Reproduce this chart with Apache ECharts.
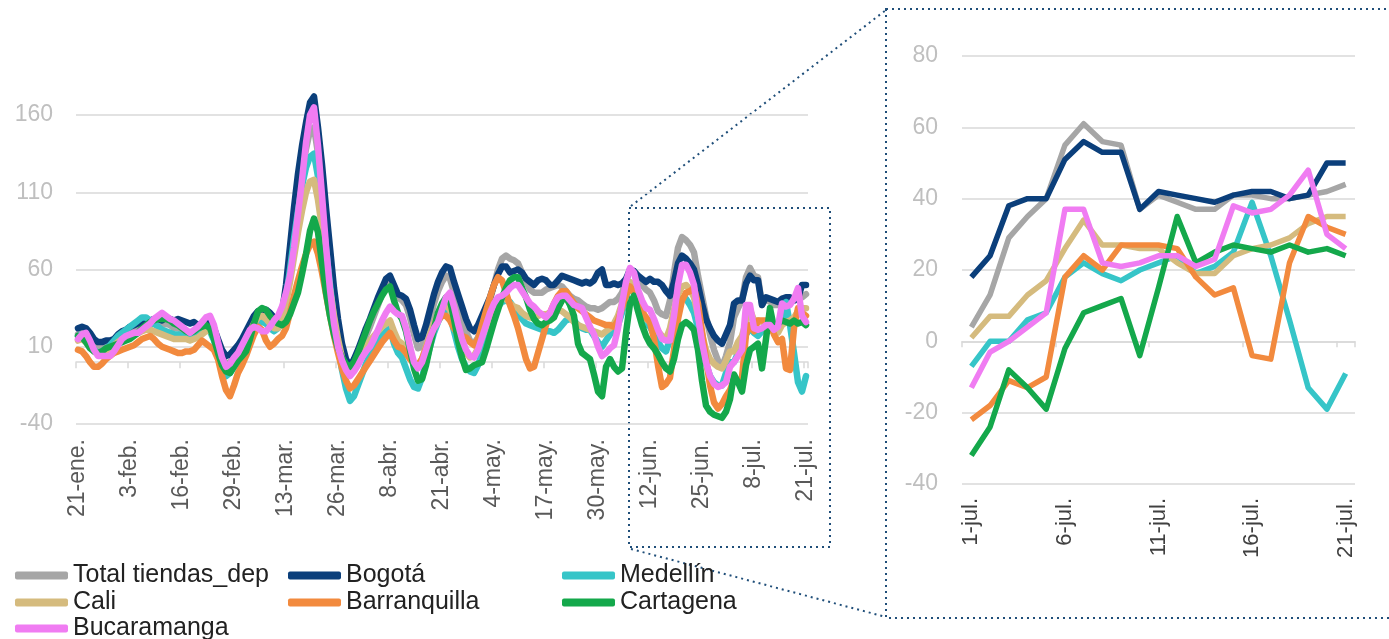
<!DOCTYPE html>
<html>
<head>
<meta charset="utf-8">
<title>Ventas tiendas por departamento</title>
<script src="https://cdn.jsdelivr.net/npm/echarts@6/dist/echarts.min.js"></script>
<style>
  html, body { margin: 0; padding: 0; background: #fff; }
  #chart { width: 1389px; height: 639px; }
</style>
</head>
<body>
<div id="chart"></div>
<script>
// daily values from 21-ene to 21-jul (183 days)
const total = [
  18, 19, 18, 15, 11, 9, 9, 10, 11, 12,
  15, 17, 18, 20, 21, 22, 23, 23, 24, 25,
  25, 24, 25, 24, 22, 22, 21, 20, 19, 20,
  19, 20, 22, 23, 18, 10, 3, -1, 0, 3,
  7, 11, 16, 21, 26, 30, 31, 30, 28, 25,
  24, 28, 42, 62, 85, 106, 123, 138, 150, 152,
  135, 112, 86, 62, 40, 22, 8, -2, -7, -3,
  3, 10, 17, 23, 30, 37, 44, 50, 55, 49,
  42, 40, 37, 29, 18, 9, 10, 18, 28, 38,
  46, 52, 56, 54, 45, 36, 28, 20, 14, 12,
  16, 23, 31, 40, 50, 60, 67, 69, 67, 66,
  64, 58, 52, 47, 45, 45, 45, 47, 48, 49,
  50, 49, 46, 43, 41, 40, 38, 36, 35, 35,
  34, 35, 37, 39, 39, 41, 45, 52, 60, 58,
  54, 50, 47, 45, 40, 33, 31, 30, 40, 58,
  74, 81, 79, 76, 71, 56, 43, 30, 18, 8,
  1, -3,
  4, 13, 29, 35, 40, 55, 61, 56, 55, 37, 41, 39, 37, 37, 41, 41, 40, 40, 41, 42, 44
];
const bogota = [
  22, 23, 22, 19, 15, 13, 13, 14, 14, 15,
  18, 20, 21, 23, 24, 25, 26, 25, 27, 28,
  28, 27, 29, 28, 27, 28, 27, 26, 25, 26,
  24, 25, 26, 26, 22, 15, 8, 4, 5, 8,
  11, 15, 20, 25, 30, 33, 34, 34, 32, 29,
  28, 32, 50, 75, 100, 122, 140, 155, 168, 172,
  152, 128, 100, 74, 48, 28, 12, 2, -3, 2,
  8, 15, 22, 28, 35, 42, 48, 54, 56, 50,
  44, 43, 41, 34, 24, 15, 16, 24, 34, 44,
  52, 58, 62, 61, 52, 44, 36, 28, 22, 20,
  24, 30, 36, 42, 50, 57, 62, 62, 58, 59,
  60, 58, 54, 52, 50, 53, 54, 53, 50, 50,
  53, 56, 55, 54, 53, 52, 51, 52, 51, 53,
  58, 60, 50, 50, 51, 50, 51, 54, 60, 59,
  56, 54, 52, 54, 52, 52, 50, 46, 43, 52,
  64, 69, 67, 64, 60, 50, 38, 28, 22, 17,
  14, 12,
  18, 24, 38, 40, 40, 51, 56, 53, 53, 37, 42, 41, 40, 39, 41, 42, 42, 40, 41, 50, 50
];
const medellin = [
  17, 18, 16, 12, 8, 6, 7, 9, 11, 14,
  17, 19, 21, 23, 25, 27, 29, 29, 27, 25,
  23, 21, 20, 19, 18, 18, 17, 17, 16, 17,
  18, 20, 21, 20, 14, 5, -4, -9, -7, -3,
  2, 7, 12, 17, 22, 25, 26, 25, 22, 20,
  22, 28, 42, 60, 80, 98, 114, 126, 133, 135,
  120, 98, 74, 50, 28, 10, -5, -17, -25, -22,
  -15, -8, -1, 5, 10, 14, 17, 20, 22, 12,
  6, 3, -4, -11, -16, -17, -10, 0, 10, 19,
  26, 31, 33, 30, 20, 10, 2, -3, -6, -7,
  -2, 6, 15, 24, 31, 36, 39, 40, 39, 35,
  31, 28, 25, 24, 23, 22, 21, 20, 20, 19,
  21, 24, 27, 28, 27, 24, 22, 21, 21, 17,
  13, 10, 14, 18, 21, 24, 32, 42, 50, 45,
  36, 29, 25, 23, 18, 13, 9, 7, 15, 26,
  36, 41, 41, 37, 32, 22, 10, -1, -9, -13,
  -15, -15,
  -7, 0, 0, 6, 8, 18, 22, 19, 17, 20, 22, 24, 19, 21, 25, 39, 24, 6, -13, -19, -9
];
const cali = [
  14, 15, 13, 10, 7, 5, 5, 7, 9, 11,
  13, 15, 16, 17, 18, 19, 20, 21, 21, 20,
  19, 18, 17, 16, 15, 15, 15, 15, 14, 15,
  16, 18, 20, 21, 16, 8, 1, -3, -2, 1,
  5, 10, 15, 20, 25, 29, 30, 28, 25, 22,
  22, 26, 38, 52, 68, 84, 98, 110, 117, 118,
  105, 87, 67, 47, 30, 15, 3, -5, -8, -5,
  0, 5, 10, 14, 17, 20, 23, 25, 27, 20,
  14, 12, 8, 3, -1, -2, 2, 10, 18, 25,
  31, 35, 37, 34, 26, 18, 11, 6, 3, 4,
  9, 16, 23, 30, 36, 40, 42, 41, 38, 36,
  35, 32, 30, 29, 29, 30, 31, 31, 32, 33,
  34, 33, 31, 29, 26, 24, 23, 22, 21, 20,
  19, 18, 20, 22, 25, 30, 38, 46, 52, 48,
  40, 33, 28, 26, 24, 20, 17, 15, 22, 34,
  44, 49, 50, 47, 42, 30, 18, 8, 2, -1,
  -3, -4,
  1, 7, 7, 13, 17, 26, 34, 27, 27, 26, 26, 22, 19, 19, 24, 26, 27, 29, 33, 35, 35
];
const barranquilla = [
  8, 7, 4, 0, -3, -3, -1, 2, 4, 6,
  7, 8, 9, 10, 11, 13, 15, 16, 17, 15,
  12, 10, 9, 8, 7, 6, 6, 7, 7, 8,
  11, 14, 12, 10, 8, 2, -9, -18, -22, -15,
  -7, -2, 4, 11, 18, 23, 21, 14, 10, 12,
  15, 17, 22, 32, 43, 53, 62, 70, 76, 78,
  70, 58, 44, 30, 17, 6, -4, -12, -17, -15,
  -11, -7, -3, 1, 5, 9, 13, 16, 19, 14,
  10, 9, 6, 2, -1, -2, 2, 9, 16, 22,
  27, 30, 30, 27, 22, 18, 17, 16, 13, 11,
  15, 24, 33, 42, 50, 55, 53, 45, 37, 30,
  22, 12, 2, -4, -3, 6, 15, 24, 32, 38,
  43, 46, 46, 42, 38, 35, 33, 31, 29, 27,
  26, 25, 24, 24, 23, 27, 35, 43, 49, 45,
  38, 33, 29, 26, 15, -2, -16, -14, -10, 8,
  28, 40, 45, 46, 48, 38, 20, 2, -15, -26,
  -30, -27,
  -22, -18, -11, -13, -10, 18, 24, 20, 27, 27, 27, 26, 18, 13, 15, -4, -5, 22, 35, 32, 30
];
const cartagena = [
  17, 16, 13, 9, 7, 6, 7, 9, 10, 11,
  12, 13, 14, 15, 17, 19, 22, 24, 26, 27,
  28, 28, 28, 27, 25, 24, 22, 20, 19, 20,
  22, 23, 24, 22, 15, 6, -2, -6, -7, -3,
  1, 4, 7, 15, 25, 33, 35, 34, 30, 27,
  25, 24, 26, 31, 38, 45, 57, 70, 85, 93,
  84, 64, 45, 30, 18, 9, 3, -1, -3, 0,
  6, 13, 20, 27, 33, 38, 43, 47, 49, 40,
  32, 28, 20, 8, -4, -12, -11, -2, 10, 22,
  32, 38, 42, 40, 28, 14, 3, -5, -4, -2,
  -1, 0, 8, 17, 26, 34, 42, 48, 53, 55,
  55, 48, 42, 34, 28, 25, 24, 26, 27, 29,
  35, 40, 42, 37, 30, 12, 6, 4, 2, -8,
  -19, -22, -3, 2, -3, -6, -4, 19, 38, 43,
  33, 24, 17, 12, 9, 5, 0, -4, -6, 2,
  15, 24, 26, 24, 21, 8, -12, -28, -32, -34,
  -35, -36,
  -32, -24, -8, -13, -19, -2, 8, 10, 12, -4, 15, 35, 22, 25, 27, 26, 25, 27, 25, 26, 24
];
const bucaramanga = [
  15, 18, 19, 14, 8, 4, 4, 4, 4, 7,
  11, 15, 17, 18, 19, 19, 21, 23, 25, 28,
  30, 32, 30, 28, 27, 25, 23, 21, 19, 21,
  23, 26, 29, 30, 24, 13, 3, -3, -1, 3,
  6, 11, 16, 21, 23, 22, 20, 20, 23, 27,
  30, 36, 45, 56, 74, 96, 118, 142, 160, 165,
  140, 108, 75, 47, 25, 10, 1, -5, -9, -6,
  -2, 3, 7, 10, 15, 21, 27, 32, 36, 33,
  31, 30, 22, 10, 0, -4, 0, 8, 16, 22,
  26, 34, 42, 45, 36, 25, 15, 8, 4, 3,
  8, 16, 24, 32, 38, 42, 43, 45, 48, 50,
  50, 46, 42, 38, 36, 33, 31, 29, 32, 38,
  42, 43, 43, 40, 37, 36, 35, 29, 23, 18,
  10, 4, 6, 9, 11, 22, 38, 52, 61, 58,
  47, 40, 35, 34, 28, 21, 15, 14, 14, 30,
  50, 63, 63, 58, 50, 30, 13, 0, -9, -14,
  -16, -15,
  -13, -3, 0, 4, 8, 37, 37, 22, 21, 22, 24, 24, 21, 23, 38, 36, 37, 41, 48, 30, 26
];

const seriesNames = ["Total tiendas_dep", "Bogotá", "Medellín", "Cali", "Barranquilla", "Cartagena", "Bucaramanga"];
const seriesColors = ["#a6a6a6", "#0b3f7b", "#36c5c8", "#d5bb7e", "#f28a3e", "#14a84b", "#f07cf2"];
const seriesValues = [total, bogota, medellin, cali, barranquilla, cartagena, bucaramanga];

// fechas: 21-ene ... 21-jul (2020)
const monthNames = ["ene.", "feb.", "mar.", "abr.", "may.", "jun.", "jul."];
const days = [];
for (let i = 0; i < total.length; i++) {
  const d = new Date(2020, 0, 21 + i);
  days.push(d.getDate() + "-" + monthNames[d.getMonth()]);
}
const julyStart = 162; // 1-jul
const julyDays = days.slice(julyStart);

const leftTicks = [-40, 10, 60, 110, 160];
const rightTicks = [-40, -20, 0, 20, 40, 60, 80];

const font = "Liberation Sans, Arial, sans-serif";
const gridColor = "#d9d9d9";

let chart = echarts.init(document.getElementById("chart"));

let series = [];
seriesNames.forEach(function (name, k) {
  // panel izquierdo, serie completa
  series.push({
    name: name,
    type: "line",
    xAxisIndex: 0,
    yAxisIndex: 0,
    data: seriesValues[k],
    showSymbol: false,
    clip: false,
    lineStyle: { width: 6.5, color: seriesColors[k], cap: "round", join: "round" },
    itemStyle: { color: seriesColors[k] },
  });
  // panel derecho, julio
  series.push({
    name: name,
    type: "line",
    xAxisIndex: 2,
    yAxisIndex: 1,
    data: seriesValues[k].slice(julyStart),
    showSymbol: false,
    lineStyle: { width: 5.5, color: seriesColors[k], join: "round" },
    itemStyle: { color: seriesColors[k] },
  });
});

// leyenda: una caja por elemento (3 columnas)
const legendPos = [
  ["Total tiendas_dep", 15, 563],
  ["Bogotá", 288, 563],
  ["Medellín", 562, 563],
  ["Cali", 15, 590],
  ["Barranquilla", 288, 590],
  ["Cartagena", 562, 590],
  ["Bucaramanga", 15, 616],
];
const legends = legendPos.map(function (p) {
  return {
    data: [p[0]],
    left: p[1],
    top: p[2],
    padding: 0,
    icon: "roundRect",
    itemWidth: 53,
    itemHeight: 8,
    textStyle: { fontFamily: font, fontSize: 25, color: "#222", lineHeight: 24 },
  };
});

// linea punteada del recuadro de zoom
const dotted = { stroke: "#1f4e79", lineWidth: 2, lineDash: [2, 4] };

let option = {
  animation: false,
  backgroundColor: "#fff",
  grid: [
    { left: 76, right: 581, top: 115, bottom: 215, outerBoundsMode: "none" },
    { left: 962, right: 34, top: 56, bottom: 155, outerBoundsMode: "none" },
  ],
  legend: legends,
  xAxis: [
    {
      // etiquetas abajo
      type: "category",
      gridIndex: 0,
      position: "bottom",
      data: days,
      boundaryGap: true,
      axisLine: { show: false, onZero: false },
      axisTick: { show: false },
      axisLabel: {
        interval: 12,
        rotate: 90,
        margin: 15,
        fontFamily: font,
        fontSize: 23,
        color: "#595959",
      },
    },
    {
      // eje en cero con marcas
      type: "category",
      gridIndex: 0,
      position: "bottom",
      data: days,
      boundaryGap: true,
      axisLine: { show: true, onZero: true, lineStyle: { color: gridColor, width: 1.5 } },
      axisTick: { show: true, interval: 12, length: 6, lineStyle: { color: gridColor, width: 1.5 } },
      axisLabel: { show: false },
    },
    {
      type: "category",
      gridIndex: 1,
      position: "bottom",
      data: julyDays,
      boundaryGap: true,
      axisLine: { show: false, onZero: false },
      axisTick: { show: false },
      axisLabel: {
        interval: 4,
        rotate: 90,
        margin: 14,
        fontFamily: font,
        fontSize: 22,
        color: "#404040",
      },
    },
    {
      type: "category",
      gridIndex: 1,
      position: "bottom",
      data: julyDays,
      boundaryGap: true,
      axisLine: { show: true, onZero: true, lineStyle: { color: gridColor, width: 1.5 } },
      axisTick: { show: true, interval: 4, length: 6, lineStyle: { color: gridColor, width: 1.5 } },
      axisLabel: { show: false },
    },
  ],
  yAxis: [
    {
      type: "value",
      gridIndex: 0,
      min: leftTicks[0],
      max: leftTicks[leftTicks.length - 1],
      interval: 50,
      axisLine: { show: false },
      axisTick: { show: false },
      axisLabel: { margin: 23, fontFamily: font, fontSize: 23, color: "#bfbfbf" },
      splitLine: { lineStyle: { color: gridColor, width: 1.5 } },
    },
    {
      type: "value",
      gridIndex: 1,
      min: rightTicks[0],
      max: rightTicks[rightTicks.length - 1],
      interval: 20,
      axisLine: { show: false },
      axisTick: { show: false },
      axisLabel: { margin: 24, fontFamily: font, fontSize: 23, color: "#bfbfbf" },
      splitLine: { lineStyle: { color: gridColor, width: 1.5 } },
    },
  ],
  graphic: [
    { type: "rect", silent: true, shape: { x: 629, y: 208, width: 201, height: 339 }, style: Object.assign({ fill: null }, dotted) },
    { type: "rect", silent: true, shape: { x: 886, y: 9, width: 520, height: 609 }, style: Object.assign({ fill: null }, dotted) },
    { type: "line", silent: true, shape: { x1: 631, y1: 206, x2: 886, y2: 10 }, style: dotted },
    { type: "line", silent: true, shape: { x1: 631, y1: 549, x2: 886, y2: 617 }, style: dotted },
  ],
  series: series,
};

chart.setOption(option);
</script>
</body>
</html>
